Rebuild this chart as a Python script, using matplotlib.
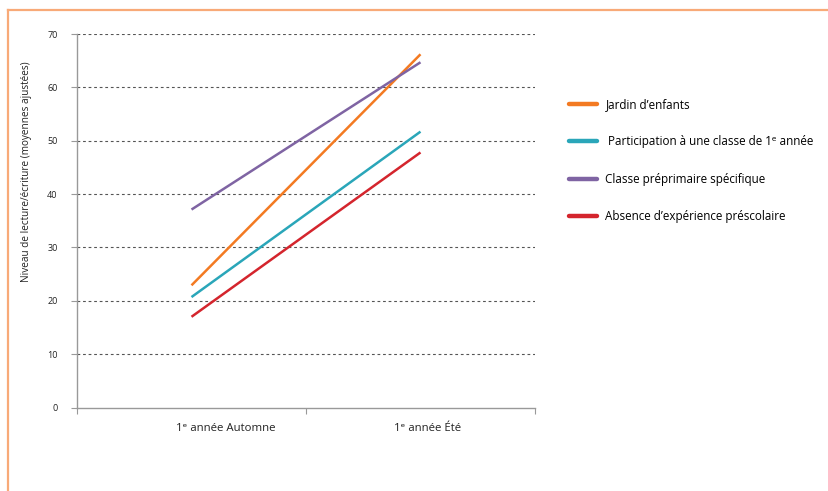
import matplotlib
matplotlib.use("Agg")
import matplotlib.pyplot as plt
from matplotlib.lines import Line2D

plt.rcParams['font.family'] = ['Open Sans', 'DejaVu Sans']

# Data
periods = ["1\u1d49 année Automne", "1\u1d49 année Été"]
series_names = [
    "Jardin d\u2019enfants",
    " Participation à une classe de 1\u1d49 année",
    "Classe préprimaire spécifique",
    "Absence d\u2019expérience préscolaire",
]
jardin = [22.9, 66.2]
participation = [20.7, 51.7]
preprimaire = [37.1, 64.7]
absence = [17.0, 47.8]
series_values = [jardin, participation, preprimaire, absence]
colors = ["#F37A22", "#2AA6B9", "#7F64A3", "#D4252D"]
y_ticks = [0, 10, 20, 30, 40, 50, 60, 70]

W, H = 829, 491
fig = plt.figure(figsize=(W / 100, H / 100), dpi=100)

# Orange frame on the top and left
fig.add_artist(Line2D([8.5 / W, 1.0], [1 - 10 / H, 1 - 10 / H], color="#F8AA78",
                      lw=1.6, transform=fig.transFigure))
fig.add_artist(Line2D([8.5 / W, 8.5 / W], [0, 1 - 10 / H], color="#F8AA78",
                      lw=1.6, transform=fig.transFigure))

left, right, top, bottom = 77, 535, 34, 407.5
ax = fig.add_axes([left / W, 1 - bottom / H, (right - left) / W, (bottom - top) / H])

x = [0.5, 1.5]
for vals, c, name in zip(series_values, colors, series_names):
    ax.plot(x, vals, color=c, lw=1.8, solid_capstyle="butt", label=name, zorder=3)

ax.set_xlim(0, 2)
ax.set_ylim(0, 70)
ax.set_yticks(y_ticks)
ax.set_yticklabels([str(v) for v in y_ticks], fontsize=6.5, color="#222222")
for v in y_ticks[1:]:
    ax.axhline(v, color="#555555", lw=0.8, ls=(0, (2.5, 2.5)), zorder=1)

# Category boundaries as major ticks; category names slightly right of centre
ax.set_xticks([0, 1, 2])
ax.set_xticklabels([])
label_shift = [0.15, 0.03]
ax.set_xticks([xi + s for xi, s in zip(x, label_shift)], minor=True)
ax.set_xticklabels(periods, minor=True, fontsize=8.2, color="#222222")
ax.tick_params(axis="x", which="minor", length=0, pad=11)
ax.tick_params(axis="x", which="major", length=4, color="#999999", width=0.8)
ax.tick_params(axis="y", length=4, color="#999999", width=0.8, pad=10)

for s in ["top", "right"]:
    ax.spines[s].set_visible(False)
for s in ["left", "bottom"]:
    ax.spines[s].set_color("#999999")
    ax.spines[s].set_linewidth(1.0)

fig.text(27 / W, 1 - 172 / H, "Niveau de lecture/écriture (moyennes ajustées)",
         rotation=90, ha="center", va="center", fontsize=7.2, color="#222222")

handles, labels = ax.get_legend_handles_labels()
leg = fig.legend(handles, labels, loc="upper left",
                 bbox_to_anchor=(564 / W, 1 - 93 / H), frameon=False,
                 fontsize=8.4, handlelength=2.4, handletextpad=0.75,
                 labelspacing=2.1, borderaxespad=0)
for line in leg.get_lines():
    line.set_linewidth(3.2)
    line.set_solid_capstyle("round")

fig.savefig("out.png", dpi=100)
